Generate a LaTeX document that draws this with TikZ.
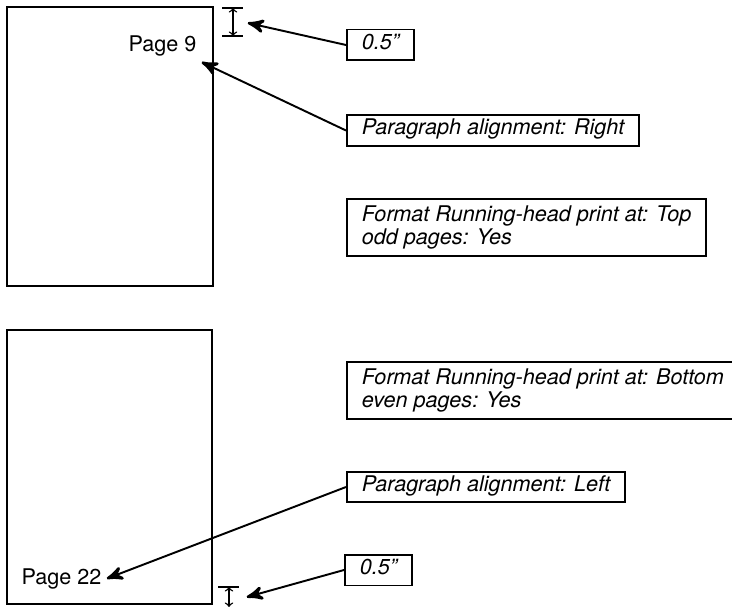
\documentclass[tikz,border=0pt]{standalone}
\usepackage{fontspec}
\setmainfont{TeX Gyre Heros}
\usetikzlibrary{arrows}
\usetikzlibrary{decorations.markings}
\newcommand{\callsize}{\fontsize{12.3}{13.2}\selectfont}
\tikzset{pointer/.style = {line width=1.1pt,
                           decoration={markings,
                                       mark=at position 1 with {\arrow[scale=1.5]{stealth'}}},
                           postaction={decorate}}}
\tikzset{setting/.style = {draw, line width=1.1pt, inner xsep=8.5pt, inner ysep=4pt,
                           font=\callsize\itshape, align=left, anchor=west}}
\tikzset{oneline/.style = {setting, text height=0.72em, text depth=0.24em}}
\tikzset{page/.style = {line width=1.2pt}}
\tikzset{margin/.style = {line width=0.8pt}}

\begin{document}
\begin{tikzpicture}[x=0.02cm, y=-0.02cm, font=\callsize]
    \path [use as bounding box, clip] (0, 0) rectangle (732, 607);

    % odd page, head at the top right
    \draw [page] (7, 7) rectangle (213, 286);
    \node [anchor = base east, inner sep = 3pt] (page9) at (202, 52) {Page 9};
    \draw [margin] (222, 8) -- (243, 8);
    \draw [margin] (222, 36) -- (243, 36);
    \draw [margin, <->, >=to] (233, 8) -- (233, 36);
    \coordinate (topgap) at (248, 23);

    \node [oneline] (marginodd) at (346, 45) {0.5\symbol{34}};
    \node [oneline] (alignright) at (346, 130.5) {Paragraph alignment: Right};
    \node [setting] (headtop) at (346, 227.5) {Format Running-head print at: Top\\odd pages: Yes};
    \draw [pointer] (marginodd.west) -- (topgap);
    \draw [pointer] (alignright.west) -- (page9.south east);

    % even page, head at the bottom left
    \draw [page] (7, 330) rectangle (212, 604);
    \node [anchor = base west, inner sep = 3pt] (page22) at (16, 584) {Page 22};
    \draw [margin] (218, 587) -- (239, 587);
    \draw [margin, <->, >=to] (229, 587) -- (229, 607);
    \coordinate (bottomgap) at (247, 597);

    \node [setting] (headbottom) at (346, 390.5) {Format Running-head print at: Bottom\\even pages: Yes};
    \node [oneline] (alignleft) at (346, 487) {Paragraph alignment: Left};
    \node [oneline] (margineven) at (344, 570) {0.5\symbol{34}};
    \draw [pointer] (alignleft.west) -- (page22.east);
    \draw [pointer] (margineven.west) -- (bottomgap);
  \end{tikzpicture}
\end{document}
